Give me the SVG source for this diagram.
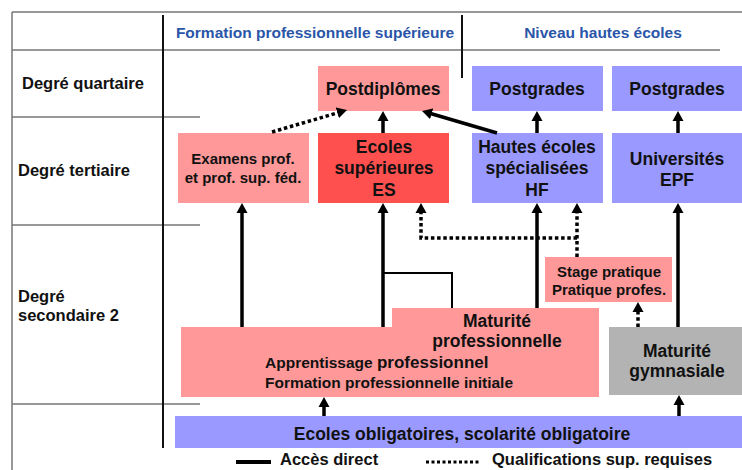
<svg xmlns="http://www.w3.org/2000/svg" width="742" height="470" viewBox="0 0 742 470">
<style>
text{font-family:"Liberation Sans",Arial,sans-serif;font-weight:bold;fill:#111;text-anchor:middle}
.hdr{fill:#2A55A8;font-size:15.5px}
.row{text-anchor:start;font-size:16.5px}
.big{font-size:17.5px}
.sm{font-size:15px}
.grid{stroke:#777;stroke-width:1.5;fill:none}
.axis{stroke:#111;stroke-width:2;fill:none}
.pink{fill:#FF9999}
.red{fill:#FF5050}
.blue{fill:#9999FF}
.gray{fill:#B3B3B3}
.solid{stroke:#000;stroke-width:3.5;fill:none}
.dot{stroke:#000;stroke-width:3.5;fill:none;stroke-dasharray:3.5 2.7}
.thin{stroke:#000;stroke-width:2;fill:none}
</style>
<defs>
<marker id="ah" markerUnits="userSpaceOnUse" markerWidth="12" markerHeight="12" viewBox="0 0 12 12" refX="2" refY="6" orient="auto">
<path d="M0,0.5 L10,6 L0,11.5 z" fill="#000"/>
</marker>
</defs>
<rect width="742" height="470" fill="#fff"/>
<g id="grid">
<path class="grid" d="M12,12 H742 M12,12 V470 M12,50 H720 M12,117 H200 M12,225 H200 M12,404 H200"/>
<path class="axis" d="M163,15 V448 M462,15 V78"/>
<text class="hdr" x="315" y="38">Formation professionnelle supérieure</text>
<text class="hdr" x="603" y="38">Niveau hautes écoles</text>
<text class="row" x="22" y="89">Degré quartaire</text>
<text class="row" x="18" y="176">Degré tertiaire</text>
<text class="row" x="18" y="302">Degré</text>
<text class="row" x="18" y="321">secondaire 2</text>
</g>
<g id="postdiplomes"><rect class="pink" x="318" y="66" width="131" height="45"/><text class="big" x="383" y="95">Postdiplômes</text></g>
<g id="postgrades1"><rect class="blue" x="472" y="66" width="131" height="45"/><text class="big" x="537" y="95">Postgrades</text></g>
<g id="postgrades2"><rect class="blue" x="612" y="66" width="130" height="45"/><text class="big" x="677" y="95">Postgrades</text></g>
<g id="examens"><rect class="pink" x="178" y="133" width="131" height="70"/><text class="sm" x="243" y="164">Examens prof.</text><text class="sm" x="243" y="183">et prof. sup. féd.</text></g>
<g id="es"><rect class="red" x="318" y="133" width="131" height="70"/><text class="big" x="384" y="153">Ecoles</text><text class="big" x="384" y="174">supérieures</text><text class="big" x="384" y="196">ES</text></g>
<g id="hf"><rect class="blue" x="472" y="133" width="131" height="70"/><text class="big" x="537" y="153">Hautes écoles</text><text class="big" x="537" y="174">spécialisées</text><text class="big" x="537" y="196">HF</text></g>
<g id="universites"><rect class="blue" x="612" y="133" width="130" height="70"/><text class="big" x="677" y="165">Universités</text><text class="big" x="677" y="186">EPF</text></g>
<g id="stage"><rect class="pink" x="545" y="257" width="127" height="45"/><text class="sm" x="609" y="277">Stage pratique</text><text class="sm" x="609" y="295">Pratique profes.</text></g>
<g id="apprentissage"><path class="pink" d="M181,327 H392 V308 H599 V397 H181 Z"/><text class="big" x="497" y="327">Maturité</text><text class="big" x="497" y="347">professionnelle</text><text x="265" y="368" style="text-anchor:start;font-size:15.5px">Apprentissage <tspan style="font-size:17px">professionnel</tspan></text><text x="265" y="388" style="text-anchor:start;font-size:15.5px">Formation professionnelle initiale</text></g>
<g id="gymnasiale"><rect class="gray" x="609" y="327" width="133" height="68"/><text class="big" x="677" y="357">Maturité</text><text class="big" x="677" y="377">gymnasiale</text></g>
<g id="obligatoires"><rect class="blue" x="175" y="416" width="567" height="32"/><text class="big" x="462" y="440">Ecoles obligatoires, scolarité obligatoire</text></g>
<g id="connectors">
<path class="dot" d="M272,132 L339.3,112.3" marker-end="url(#ah)"/>
<path class="solid" d="M383,133 V119" marker-end="url(#ah)"/>
<path class="solid" d="M497,133 L429.7,113.3" marker-end="url(#ah)"/>
<path class="solid" d="M537,133 V119" marker-end="url(#ah)"/>
<path class="solid" d="M678,133 V119" marker-end="url(#ah)"/>
<path class="solid" d="M242,327 V211" marker-end="url(#ah)"/>
<path class="solid" d="M383,327 V211" marker-end="url(#ah)"/>
<path class="thin" d="M383,273 H452 V308"/>
<path class="solid" d="M537,308 V211" marker-end="url(#ah)"/>
<path class="dot" d="M577,257 V211" marker-end="url(#ah)"/>
<path class="dot" d="M577,238 H421 V211" marker-end="url(#ah)"/>
<path class="dot" d="M638,327 V310" marker-end="url(#ah)"/>
<path class="solid" d="M678,327 V211" marker-end="url(#ah)"/>
<path class="solid" d="M324,416 V405" marker-end="url(#ah)"/>
<path class="solid" d="M679,416 V403" marker-end="url(#ah)"/>
</g>
<g id="legend">
<path class="solid" d="M236,462 H271" style="stroke-width:4"/>
<text style="text-anchor:start;font-size:16.5px" x="280" y="465">Accès direct</text>
<path class="dot" d="M426,462 H479" style="stroke-width:3;stroke-dasharray:3 2.5"/>
<text style="text-anchor:start;font-size:16.5px" x="492" y="465">Qualifications sup. requises</text>
</g>
</svg>
